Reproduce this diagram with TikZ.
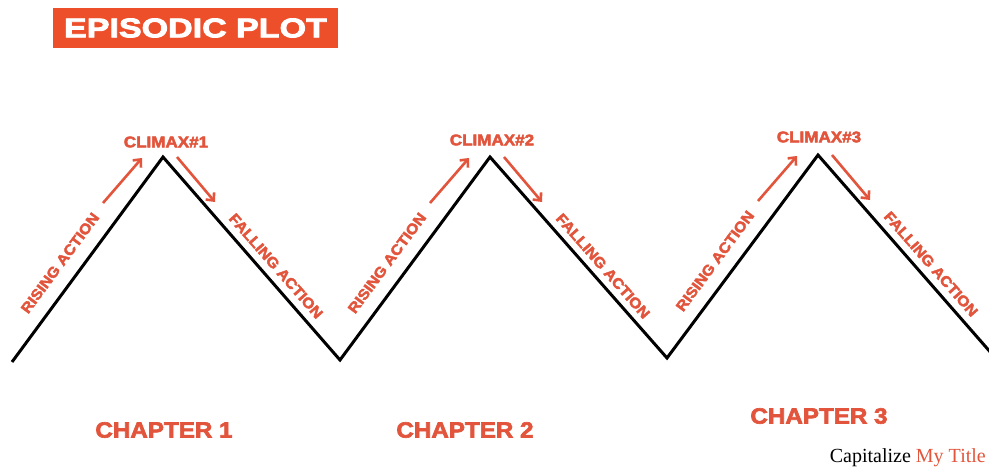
\documentclass[tikz,border=0pt]{standalone}
\usepackage{fontspec}
\setmainfont{Liberation Serif}
\newfontfamily\heavy{Liberation Sans}[BoldFeatures={FakeBold=3,FakeStretch=1.1}]
\newfontfamily\heavywide{Liberation Sans}[BoldFeatures={FakeBold=3.2,FakeStretch=1.26}]
\usetikzlibrary{arrows.meta,calc}
\definecolor{plotred}{HTML}{E2553C}
\definecolor{boxred}{HTML}{EE4F2B}
\begin{document}
\begin{tikzpicture}[x=1pt,y=-1pt,
  zig/.style={line width=3pt, black, line join=miter},
  act/.style={draw=plotred, line width=2.6pt, -{Straight Barb[length=6pt,width=11pt,line width=2.6pt]}},
  lbl/.style={text=plotred, font=\heavy\bfseries\fontsize{14.5}{14.5}\selectfont, inner sep=0pt},
  clim/.style={text=plotred, font=\heavy\bfseries\fontsize{15.5}{15.5}\selectfont, inner sep=0pt},
  chap/.style={text=plotred, font=\heavy\bfseries\fontsize{22}{22}\selectfont, inner sep=0pt}]
\useasboundingbox (0,0) rectangle (989,472);
\fill[white] (0,0) rectangle (989,472);
% title
\node[fill=boxred, text=white, minimum width=285pt, minimum height=40pt, inner sep=0pt,
  font=\heavywide\bfseries\fontsize{27}{27}\selectfont] (title) at (195.5,28) {EPISODIC PLOT};
% zigzag
\coordinate (s) at (12,362);
\coordinate (p1) at (163,157);
\coordinate (v1) at (340,360);
\coordinate (p2) at (490,157);
\coordinate (v2) at (667,358);
\coordinate (p3) at (818,155);
\coordinate (e) at (992,354);
\draw[zig] (s) -- (p1) -- (v1) -- (p2) -- (v2) -- (p3) -- (e);
% climax labels
\node[clim] (c1) at (166,142) {CLIMAX\#1};
\node[clim] (c2) at (492,140) {CLIMAX\#2};
\node[clim] (c3) at (819,137) {CLIMAX\#3};
\foreach \i in {1,2,3}{
  \coordinate (ra\i) at ($(p\i)+(-60,46)$);
  \coordinate (rb\i) at ($(p\i)+(-21,1)$);
  \coordinate (fa\i) at ($(p\i)+(14,0)$);
  \coordinate (fb\i) at ($(p\i)+(52,45)$);
  \draw[act] (ra\i) -- (rb\i);
  \draw[act] (fa\i) -- (fb\i);
  \node[lbl, rotate=53.5] (rise\i) at ($(p\i)+(-103,106)$) {RISING ACTION};
  \node[lbl, rotate=-48.8] (fall\i) at ($(p\i)+(113,109)$) {FALLING ACTION};
}
% chapters
\node[chap] (ch1) at (164,430) {CHAPTER 1};
\node[chap] (ch2) at (465,430) {CHAPTER 2};
\node[chap] (ch3) at (819,416) {CHAPTER 3};
% credit
\node[font=\fontsize{20}{20}\selectfont, inner sep=0pt, anchor=east] (credit) at (986,458) {Capitalize \textcolor{plotred}{My Title}};
\end{tikzpicture}
\end{document}
